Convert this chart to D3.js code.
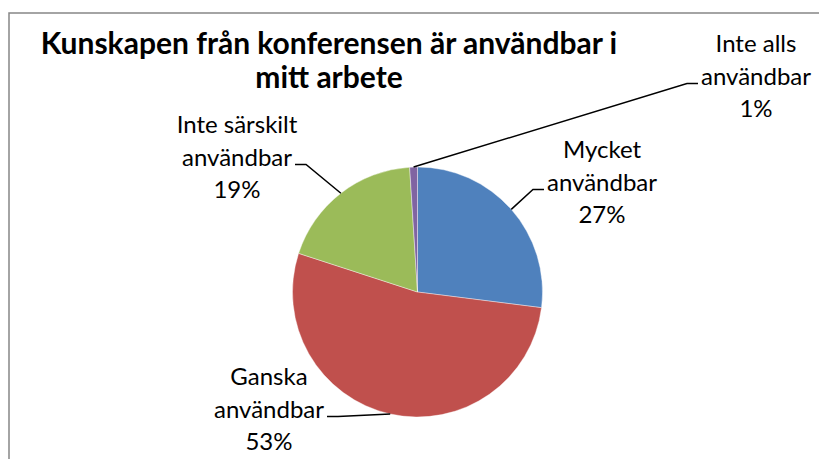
<!DOCTYPE html>
<html>
<head>
<meta charset="utf-8">
<script src="https://cdn.jsdelivr.net/npm/d3@7"></script>
<style>
  html, body { margin: 0; padding: 0; background: #fff; }
  svg { display: block; font-family: Lato, 'Open Sans', sans-serif; }
</style>
</head>
<body>
<svg width="819" height="459"></svg>
<script>
const categories = ['Mycket användbar', 'Ganska användbar', 'Inte särskilt användbar', 'Inte alls användbar']
const labelLines = [['Mycket', 'användbar'], ['Ganska', 'användbar'], ['Inte särskilt', 'användbar'], ['Inte alls', 'användbar']]
const values = [27, 53, 19, 1]
const colors = ['#4F81BD', '#C0504D', '#9BBB59', '#8064A2']
const titleLines = ['Kunskapen från konferensen är användbar i', 'mitt arbete']

// label placement (Excel-style manual positions): center x, first baseline y, side of leader
const labelLayout = [
  { x: 602, y: 158, side: 'left' },
  { x: 269, y: 385, side: 'right' },
  { x: 237, y: 133, side: 'right' },
  { x: 756, y: 52, side: 'left' }
]

;(function (d3) {
  'use strict'

  const svg = d3.select('svg')
  const cx = 417.5, cy = 292, r = 125
  const lineH = 32.5

  svg.append('rect')
    .attr('x', 9).attr('y', 13)
    .attr('width', 840).attr('height', 470)
    .attr('fill', '#fff')
    .attr('stroke', '#868686')
    .attr('stroke-width', 1.5)

  svg.append('text')
    .attr('text-anchor', 'middle')
    .attr('font-weight', 'bold')
    .attr('font-size', 30)
    .attr('fill', '#000')
    .selectAll('tspan')
    .data(titleLines)
    .join('tspan')
    .attr('x', 329)
    .attr('y', (d, i) => 54 + i * 33.5)
    .text(d => d)

  const pie = d3.pie().sort(null).value(d => d)
  const arcs = pie(values)
  const arc = d3.arc().innerRadius(0).outerRadius(r)

  const g = svg.append('g').attr('transform', `translate(${cx},${cy})`)

  g.selectAll('path.slice')
    .data(arcs)
    .join('path')
    .attr('class', 'slice')
    .attr('d', arc)
    .attr('fill', (d, i) => colors[i])
    .attr('stroke', '#fff')
    .attr('stroke-width', 0.4)

  const labels = svg.append('g')
    .attr('font-size', 24)
    .attr('fill', '#000')

  arcs.forEach((a, i) => {
    const pos = labelLayout[i]
    const lines = labelLines[i].concat([Math.round(values[i]) + '%'])
    const t = labels.append('text').attr('text-anchor', 'middle')
    t.selectAll('tspan')
      .data(lines)
      .join('tspan')
      .attr('x', pos.x)
      .attr('y', (d, j) => pos.y + j * lineH)
      .text(d => d)

    // width of the middle line sets where the leader meets the label
    const mid = t.selectAll('tspan').nodes()[1]
    const w = mid.getComputedTextLength()
    const ly = pos.y + lineH - 1
    const edge = pos.side === 'left' ? pos.x - w / 2 - 3 : pos.x + w / 2 + 3
    const elbow = pos.side === 'left' ? edge - 11 : edge + 11

    const ang = (a.startAngle + a.endAngle) / 2
    const ax = cx + r * Math.sin(ang)
    const ay = cy - r * Math.cos(ang)

    svg.append('path')
      .attr('d', d3.line()([[ax, ay], [elbow, ly], [edge, ly]]))
      .attr('fill', 'none')
      .attr('stroke', '#000')
      .attr('stroke-width', 1.5)
  })
}(d3))
</script>
</body>
</html>
